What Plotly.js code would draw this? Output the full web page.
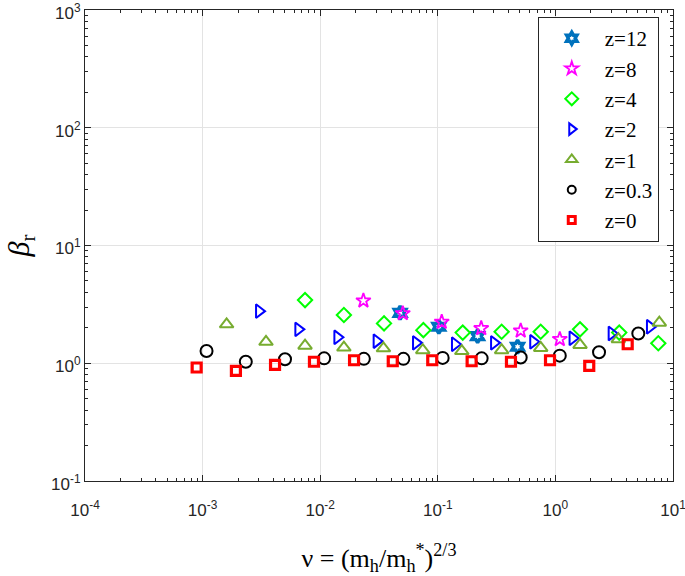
<!DOCTYPE html>
<html>
<head>
<meta charset="utf-8">
<script src="https://cdn.plot.ly/plotly-3.0.1.min.js"></script>
<style>html,body{margin:0;padding:0;background:#fff;}#chart{width:685px;height:576px;}</style>
</head>
<body>
<div id="chart"></div>
<script>
// ----- data -----
const xZ0  = [8.9e-4, 1.92e-3, 4.13e-3, 8.85e-3, 0.0194, 0.0414, 0.0897, 0.194, 0.419, 0.900, 1.94, 4.12];
const yZ0  = [0.92, 0.86, 0.97, 1.03, 1.06, 1.04, 1.06, 1.04, 1.03, 1.06, 0.95, 1.45];

const xZ03 = [1.08e-3, 2.33e-3, 5.02e-3, 0.0108, 0.0235, 0.0510, 0.110, 0.236, 0.507, 1.09, 2.35, 5.07];
const yZ03 = [1.27, 1.03, 1.08, 1.10, 1.09, 1.09, 1.11, 1.10, 1.12, 1.16, 1.24, 1.79];

const xZ1  = [1.60e-3, 3.46e-3, 7.43e-3, 0.0159, 0.0345, 0.0745, 0.160, 0.349, 0.750, 1.62, 3.43, 7.65];
const yZ1  = [2.14, 1.52, 1.41, 1.36, 1.34, 1.29, 1.27, 1.29, 1.35, 1.43, 1.60, 2.21];

const xZ2  = [3.02e-3, 6.52e-3, 0.0140, 0.0302, 0.0653, 0.140, 0.301, 0.648, 1.40, 3.01, 6.37];
const yZ2  = [2.77, 1.94, 1.66, 1.54, 1.49, 1.45, 1.49, 1.52, 1.63, 1.79, 2.04];

const xZ4  = [7.43e-3, 0.0159, 0.0349, 0.0754, 0.163, 0.349, 0.750, 1.62, 3.49, 7.50];
const yZ4  = [3.44, 2.57, 2.18, 1.91, 1.82, 1.85, 1.85, 1.94, 1.82, 1.48];

const xZ8  = [0.0233, 0.0504, 0.108, 0.234, 0.507, 1.09];
const yZ8  = [3.40, 2.65, 2.24, 1.98, 1.89, 1.60];

const xZ12 = [0.0478, 0.102, 0.218, 0.477];
const yZ12 = [2.68, 2.04, 1.70, 1.38];

const seriesNames = ['z=12', 'z=8', 'z=4', 'z=2', 'z=1', 'z=0.3', 'z=0'];

const xTickVals = [1e-4, 1e-3, 1e-2, 1e-1, 1, 10];
const xTickText = ['10<sup>-4</sup>', '10<sup>-3</sup>', '10<sup>-2</sup>', '10<sup>-1</sup>', '10<sup>0</sup>', '10<sup>1</sup>'];
const yTickVals = [0.1, 1, 10, 100, 1000];
const yTickText = ['10<sup>-1</sup>', '10<sup>0</sup>', '10<sup>1</sup>', '10<sup>2</sup>', '10<sup>3</sup>'];

// ----- styles -----
const styles = [
  {symbol: 'hexagram-open',       color: '#0072BD', size: 10, lw: 3.5, lsize: 9,  llw: 3.5},
  {symbol: 'star-open',           color: '#FF00FF', size: 11, lw: 1.8, lsize: 10, llw: 1.8},
  {symbol: 'diamond-open',        color: '#00FF00', size: 11, lw: 2,   lsize: 10, llw: 2},
  {symbol: 'triangle-right-open', color: '#0000FF', size: 12, lw: 2,   lsize: 10, llw: 2},
  {symbol: 'triangle-up-open',    color: '#77AC30', size: 12, lw: 2,   lsize: 10, llw: 2},
  {symbol: 'circle-open',         color: '#000000', size: 12, lw: 2,   lsize: 8,  llw: 2},
  {symbol: 'square-open',         color: '#FF0000', size: 9,  lw: 3.2, lsize: 7,  llw: 3}
];
const xs = [xZ12, xZ8, xZ4, xZ2, xZ1, xZ03, xZ0];
const ys = [yZ12, yZ8, yZ4, yZ2, yZ1, yZ03, yZ0];

const data = [];
for (let i = 0; i < seriesNames.length; i++) {
  const s = styles[i];
  data.push({
    type: 'scatter', mode: 'markers', name: seriesNames[i], x: xs[i], y: ys[i],
    showlegend: false, legendgroup: seriesNames[i],
    marker: {symbol: s.symbol, size: s.size, color: s.color, line: {color: s.color, width: s.lw}}
  });
}
// legend entries (smaller symbols, as in the reference legend)
for (let i = 0; i < seriesNames.length; i++) {
  const s = styles[i];
  data.push({
    type: 'scatter', mode: 'markers', name: seriesNames[i], x: [null], y: [null],
    showlegend: true, legendgroup: seriesNames[i],
    marker: {symbol: s.symbol, size: s.lsize, color: s.color, line: {color: s.color, width: s.llw}}
  });
}

const axisCommon = {
  type: 'log', showline: true, linecolor: '#262626', linewidth: 1, mirror: 'ticks',
  ticks: 'inside', ticklen: 6, tickcolor: '#262626', tickwidth: 1,
  showgrid: true, gridcolor: '#e3e3e3', gridwidth: 1, zeroline: false,
  ticklabeloverflow: 'allow',
  tickfont: {family: 'Liberation Sans, Arial, sans-serif', size: 17, color: '#262626'},
  minor: {ticks: 'inside', ticklen: 3, tickcolor: '#262626', dtick: 'D1', showgrid: false}
};

const layout = {
  width: 685, height: 576,
  margin: {l: 85, r: 12, t: 10, b: 95},
  paper_bgcolor: '#ffffff', plot_bgcolor: '#ffffff',
  showlegend: true,
  xaxis: Object.assign({}, axisCommon, {
    range: [-4.0001, 1.0001], tickmode: 'array', tickvals: xTickVals, ticktext: xTickText,
    ticklabelstandoff: 14,
    title: {text: '\u03bd = (m<sub>h</sub>/m<sub>h</sub><sup>*</sup>)<sup>2/3</sup>',
            font: {family: 'Liberation Serif, Times New Roman, serif', size: 26, color: '#000'}, standoff: 32}
  }),
  yaxis: Object.assign({}, axisCommon, {
    range: [-1.0001, 3.0001], tickmode: 'array', tickvals: yTickVals, ticktext: yTickText,
    ticklabelshift: 3,
    title: {text: '<i>\u03b2</i><sub>r</sub>',
            font: {family: 'Liberation Serif, Times New Roman, serif', size: 30, color: '#000'}, standoff: 12}
  }),
  legend: {
    x: 0.770, y: 0.985, xanchor: 'left', yanchor: 'top',
    bgcolor: '#ffffff', bordercolor: '#262626', borderwidth: 1,
    font: {family: 'Liberation Serif, Times New Roman, serif', size: 21, color: '#000'},
    itemwidth: 56, tracegroupgap: 0, traceorder: 'normal'
  }
};

Plotly.newPlot('chart', data, layout, {displayModeBar: false, staticPlot: true});
</script>
</body>
</html>
